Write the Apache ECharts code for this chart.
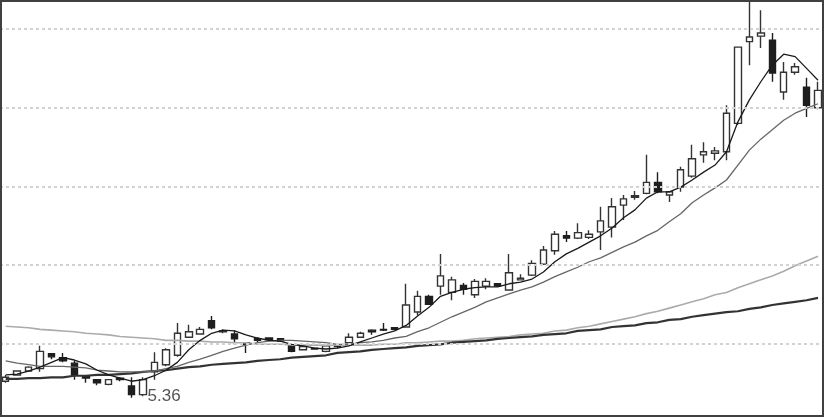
<!DOCTYPE html>
<html>
<head>
<meta charset="utf-8">
<script src="https://cdn.jsdelivr.net/npm/echarts@6/dist/echarts.min.js"></script>
<style>
html,body{margin:0;padding:0;background:#fff;}
#chart{width:824px;height:417px;}
</style>
</head>
<body>
<div id="chart"></div>
<script>
// Daily candles: open, close, low, high
const openV = [5.57,5.65,5.70,5.73,5.92,5.87,5.80,5.63,5.59,5.53,
5.61,5.51,5.40,5.69,5.78,5.90,6.13,6.17,6.34,6.20,
6.17,6.06,6.11,6.12,6.11,6.03,5.97,5.99,5.95,6.02,
6.06,6.13,6.22,6.23,6.25,6.26,6.45,6.65,6.78,6.70,
6.79,6.67,6.78,6.81,6.73,6.86,6.92,7.06,7.23,7.42,
7.39,7.40,7.47,7.53,7.81,7.91,7.96,8.10,7.94,8.04,
8.18,8.45,8.47,8.49,8.85,9.89,9.96,9.91,9.25,9.50,
9.31,9.05];
const closeV = [5.62,5.70,5.75,5.95,5.88,5.83,5.65,5.61,5.55,5.59,
5.59,5.40,5.59,5.81,5.97,6.18,6.20,6.23,6.25,6.21,
6.11,6.04,6.09,6.10,6.08,5.95,6.01,5.98,6.02,6.01,
6.13,6.18,6.20,6.22,6.23,6.54,6.65,6.55,6.91,6.86,
6.74,6.84,6.84,6.78,6.95,6.88,7.07,7.24,7.44,7.39,
7.46,7.44,7.61,7.79,7.89,7.93,8.10,7.98,7.98,8.26,
8.40,8.49,8.50,8.98,9.82,9.95,10.00,9.49,9.50,9.57,
9.08,9.27];
const lowV = [5.55,5.64,5.69,5.69,5.85,5.81,5.59,5.55,5.52,5.52,
5.57,5.36,5.38,5.59,5.76,5.88,6.12,6.16,6.23,6.18,
6.03,5.93,6.07,6.08,6.07,5.94,5.96,5.97,5.94,5.99,
6.03,6.12,6.16,6.21,6.22,6.25,6.41,6.54,6.67,6.60,
6.67,6.63,6.74,6.77,6.72,6.85,6.91,7.05,7.18,7.34,
7.38,7.38,7.24,7.40,7.62,7.88,7.95,7.96,7.85,7.98,
8.16,8.35,8.38,8.38,8.83,9.59,9.81,9.38,9.15,9.47,
8.93,9.03];
const highV = [5.65,5.71,5.76,6.02,5.93,5.93,5.83,5.64,5.60,5.60,
5.62,5.62,5.62,5.94,5.99,6.31,6.29,6.26,6.40,6.23,
6.22,6.07,6.13,6.13,6.12,6.04,6.03,6.00,6.03,6.03,
6.18,6.20,6.23,6.31,6.26,6.81,6.72,6.67,7.19,6.90,
6.82,6.87,6.88,6.82,7.19,6.93,7.11,7.29,7.48,7.48,
7.58,7.49,7.79,7.90,7.94,7.99,8.45,8.23,7.99,8.30,
8.58,8.61,8.55,9.08,9.83,10.61,10.29,10.00,9.63,9.62,
9.43,9.38];

// Moving average lines
const ma5 = [5.65,5.66,5.70,5.75,5.81,5.87,5.84,5.79,5.71,5.65,
5.61,5.57,5.59,5.64,5.71,5.81,5.97,6.09,6.18,6.22,
6.21,6.16,6.12,6.09,6.08,6.04,6.02,5.99,5.98,5.99,
6.02,6.07,6.12,6.17,6.21,6.28,6.40,6.51,6.65,6.70,
6.74,6.76,6.77,6.77,6.81,6.83,6.87,6.96,7.09,7.19,
7.26,7.34,7.42,7.52,7.65,7.75,7.90,7.98,7.98,8.04,
8.13,8.23,8.32,8.49,8.87,9.15,9.38,9.59,9.73,9.70,
9.55,9.40];
const ma10 = [5.83,5.80,5.78,5.76,5.76,5.76,5.75,5.74,5.71,5.70,
5.69,5.69,5.69,5.70,5.73,5.76,5.81,5.85,5.90,5.95,
5.99,6.03,6.06,6.08,6.09,6.09,6.08,6.07,6.06,6.04,
6.04,6.06,6.07,6.09,6.12,6.14,6.20,6.25,6.32,6.39,
6.45,6.51,6.58,6.63,6.68,6.73,6.77,6.83,6.90,6.96,
7.02,7.09,7.14,7.21,7.28,7.34,7.42,7.49,7.60,7.70,
7.84,7.94,8.03,8.13,8.32,8.51,8.65,8.77,8.89,8.98,
9.04,9.10];
const maLight = [6.27,6.26,6.25,6.23,6.22,6.21,6.20,6.18,6.17,6.16,
6.14,6.13,6.12,6.11,6.09,6.09,6.08,6.08,6.07,6.07,
6.06,6.06,6.04,6.04,6.04,6.03,6.03,6.03,6.03,6.03,
6.03,6.03,6.03,6.04,6.04,6.06,6.06,6.07,6.08,6.08,
6.09,6.11,6.12,6.13,6.14,6.16,6.17,6.18,6.21,6.22,
6.25,6.27,6.30,6.33,6.36,6.39,6.43,6.46,6.50,6.54,
6.58,6.62,6.67,6.70,6.76,6.81,6.86,6.91,6.97,7.04,
7.10,7.16];
const maDark = [5.60,5.60,5.61,5.61,5.62,5.62,5.64,5.64,5.65,5.65,
5.66,5.67,5.69,5.70,5.71,5.73,5.75,5.76,5.78,5.79,
5.80,5.81,5.83,5.84,5.85,5.87,5.88,5.89,5.90,5.93,
5.94,5.95,5.97,5.98,5.99,6.00,6.02,6.03,6.04,6.06,
6.07,6.08,6.09,6.11,6.12,6.13,6.14,6.16,6.17,6.18,
6.21,6.22,6.23,6.26,6.27,6.28,6.31,6.32,6.35,6.36,
6.39,6.41,6.43,6.45,6.46,6.49,6.51,6.54,6.56,6.58,
6.60,6.63];

// Horizontal guide levels (dotted lines)
const gridLevels = [6.05, 7.05, 8.05, 9.05, 10.05];
const yMin = 5.115, yMax = 10.42;

const days = openV.map((_, i) => 'D' + (i + 1));
const lowLabel = '5.36';

const candles = openV.map((o, i) => [o, closeV[i], lowV[i], highV[i]]);
let minIdx = 0;
lowV.forEach((v, i) => { if (v < lowV[minIdx]) minIdx = i; });

const chart = echarts.init(document.getElementById('chart'), null, {renderer: 'canvas'});
chart.setOption({
  animation: false,
  backgroundColor: '#ffffff',
  grid: {left: -2.74, right: 0.26, top: 0, bottom: 0, containLabel: false},
  xAxis: {
    type: 'category', data: days, boundaryGap: true,
    axisLine: {show: false}, axisTick: {show: false}, axisLabel: {show: false}, splitLine: {show: false}
  },
  yAxis: {
    type: 'value', min: yMin, max: yMax,
    axisLine: {show: false}, axisTick: {show: false}, axisLabel: {show: false},
    splitLine: {show: false}
  },
  series: [
    {
      type: 'candlestick', data: candles, barWidth: 7,
      itemStyle: {color: '#ffffff', color0: '#1e1e1e', borderColor: '#333333', borderColor0: '#1e1e1e', borderWidth: 1.4},
      markPoint: {
        symbol: 'circle', symbolSize: 0,
        data: [{coord: [days[minIdx], lowV[minIdx]], value: lowLabel}],
        label: {show: true, position: 'right', distance: 16, offset: [0, -1], formatter: lowLabel,
          color: '#555', fontSize: 17, fontFamily: 'Liberation Sans, Arial, sans-serif'}
      },
      markLine: {
        silent: true, symbol: 'none', animation: false,
        label: {show: false},
        lineStyle: {color: '#d2d2d2', width: 2, type: [3, 3]},
        data: gridLevels.map(v => ({yAxis: v}))
      },
      z: 2
    },
    {type: 'line', data: maLight, symbol: 'none', lineStyle: {color: '#ababab', width: 1.6}, z: 3},
    {type: 'line', data: maDark, symbol: 'none', lineStyle: {color: '#333333', width: 2.2}, z: 3},
    {type: 'line', data: ma10, symbol: 'none', lineStyle: {color: '#666666', width: 1.3}, z: 3},
    {type: 'line', data: ma5, symbol: 'none', lineStyle: {color: '#1a1a1a', width: 1.3}, z: 4}
  ],
  graphic: [{
    type: 'rect', shape: {x: 1, y: 1, width: 822, height: 415},
    style: {fill: 'none', stroke: '#404040', lineWidth: 2}, z: 100, silent: true
  }]
});
</script>
</body>
</html>
